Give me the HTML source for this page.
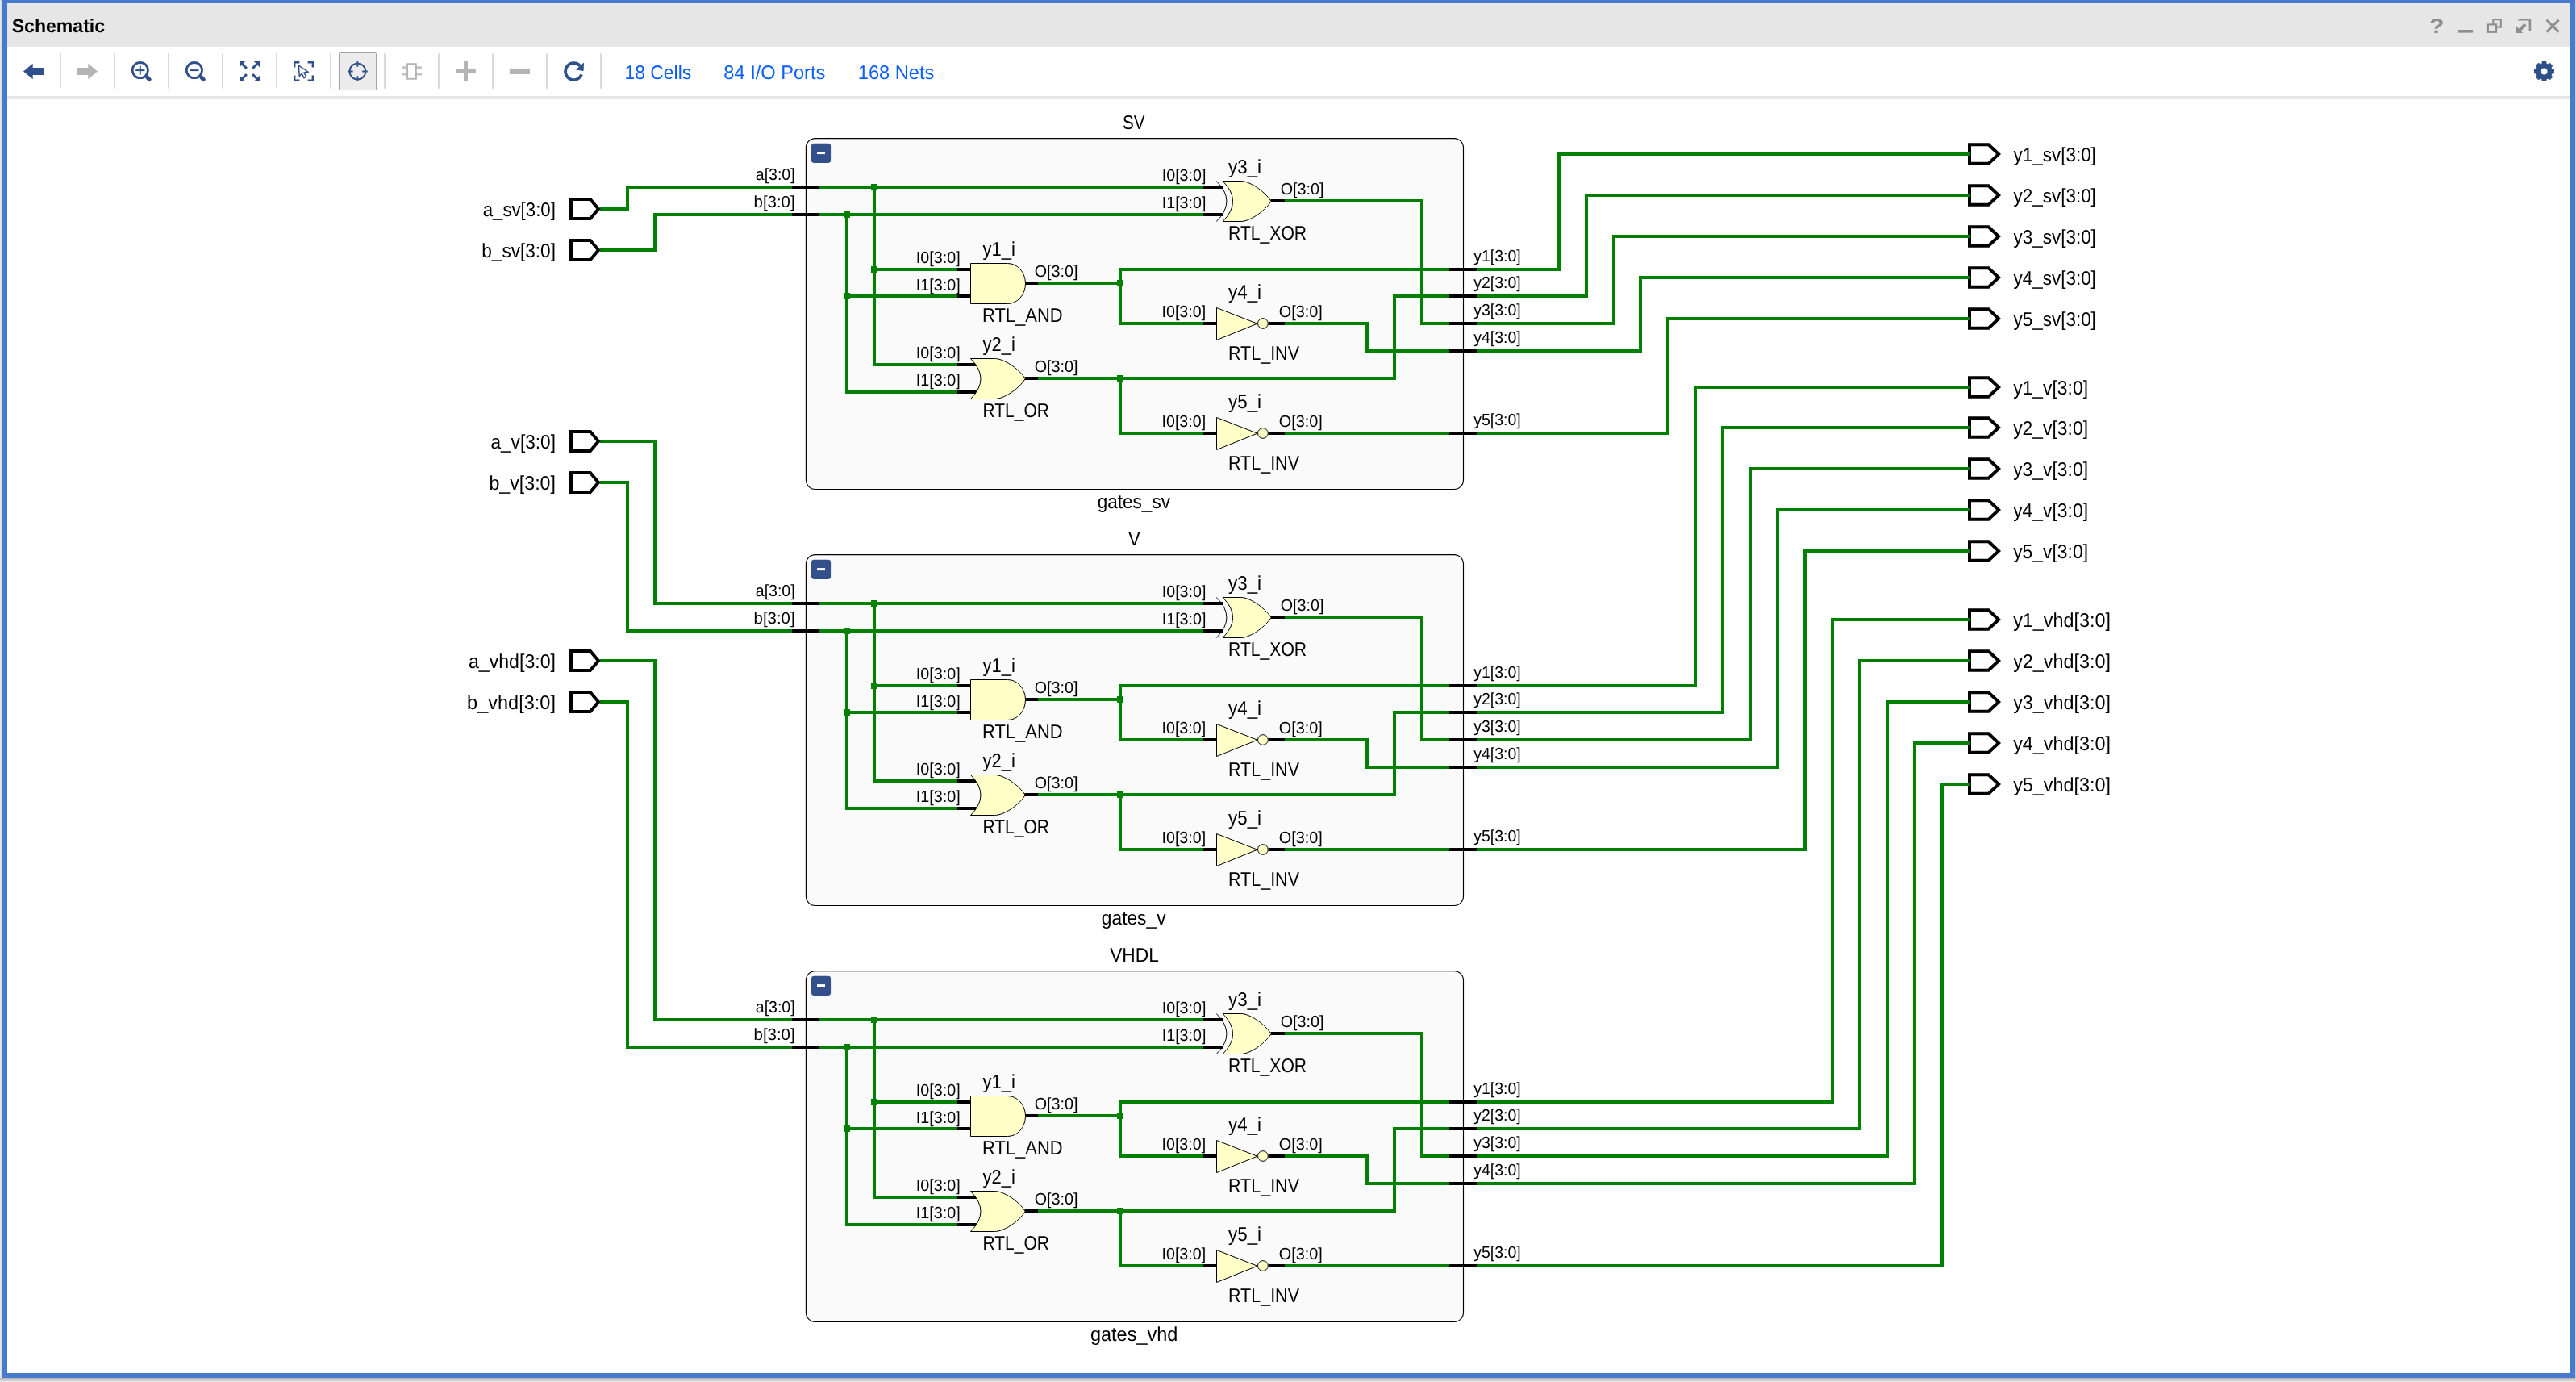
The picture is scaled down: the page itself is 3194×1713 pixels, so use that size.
<!DOCTYPE html>
<html><head><meta charset="utf-8"><title>Schematic</title>
<style>
html,body{margin:0;padding:0;background:#ececec;overflow:hidden}
body{width:3194px;height:1713px}
svg{display:block;font-family:"Liberation Sans",sans-serif;will-change:transform}
text{white-space:pre;text-rendering:geometricPrecision}
</style></head><body>
<svg width="3194" height="1713" viewBox="0 0 3194 1713">
<rect x="0" y="0" width="3194" height="1713" fill="#ececec"/>
<defs><linearGradient id="sb" x1="0" y1="0" x2="0" y2="1"><stop offset="0" stop-color="#b4b4b4"/><stop offset="1" stop-color="#e9e9e9"/></linearGradient><linearGradient id="sl" x1="1" y1="0" x2="0" y2="0"><stop offset="0" stop-color="#c8c8c8"/><stop offset="1" stop-color="#ececec"/></linearGradient></defs>
<rect x="0" y="0" width="3" height="1710" fill="url(#sl)"/>
<rect x="0" y="1708" width="3194" height="5" fill="url(#sb)"/>
<rect x="3193" y="0" width="1" height="1710" fill="#cfcfcf"/>
<rect x="3" y="-4" width="3190" height="1712" fill="#487bd0"/>
<rect x="9" y="4" width="3178" height="54" fill="#e6e6e6"/>
<rect x="9" y="58" width="3178" height="61" fill="#ffffff"/>
<rect x="9" y="119" width="3178" height="4" fill="#e6e6e6"/>
<rect x="9" y="123" width="3178" height="1579" fill="#ffffff"/>
<text x="14.67" y="39.9" font-size="23.4" textLength="115.46" lengthAdjust="spacingAndGlyphs" fill="#000" font-weight="bold">Schematic</text>
<text x="3011.9" y="40.9" font-size="25.5" font-weight="bold" fill="#8e8e8e" textLength="18.5" lengthAdjust="spacingAndGlyphs">?</text>
<rect x="3048" y="37" width="18" height="3.6" fill="#8e8e8e"/>
<path d="M3091.3,30 V24.1 H3100.8 V33.6 H3095" fill="none" stroke="#8e8e8e" stroke-width="2.1"/>
<rect x="3084.9" y="30.4" width="10.2" height="9.4" fill="none" stroke="#8e8e8e" stroke-width="2.1"/>
<path d="M3122.6,24.3 H3136.9 V38.6" fill="none" stroke="#8e8e8e" stroke-width="2.6"/>
<path d="M3131.2,30.2 L3123.5,37.9" fill="none" stroke="#8e8e8e" stroke-width="4"/>
<path d="M3120,32.3 V40.9 H3128.2 Z" fill="#8e8e8e"/>
<path d="M3157.6,24.8 L3172.6,39.6 M3172.6,24.8 L3157.6,39.6" fill="none" stroke="#8e8e8e" stroke-width="3"/>
<rect x="74.1" y="66.2" width="1.8" height="43.6" fill="#d6d6d6"/>
<rect x="141.1" y="66.2" width="1.8" height="43.6" fill="#d6d6d6"/>
<rect x="208.1" y="66.2" width="1.8" height="43.6" fill="#d6d6d6"/>
<rect x="275.1" y="66.2" width="1.8" height="43.6" fill="#d6d6d6"/>
<rect x="342.1" y="66.2" width="1.8" height="43.6" fill="#d6d6d6"/>
<rect x="409.1" y="66.2" width="1.8" height="43.6" fill="#d6d6d6"/>
<rect x="476.1" y="66.2" width="1.8" height="43.6" fill="#d6d6d6"/>
<rect x="543.1" y="66.2" width="1.8" height="43.6" fill="#d6d6d6"/>
<rect x="610.1" y="66.2" width="1.8" height="43.6" fill="#d6d6d6"/>
<rect x="677.1" y="66.2" width="1.8" height="43.6" fill="#d6d6d6"/>
<rect x="744.1" y="66.2" width="1.8" height="43.6" fill="#d6d6d6"/>
<path d="M29,88.5 L40.7,78.8 L40.7,83.9 L54,83.9 L54,93.1 L40.7,93.1 L40.7,98.2 Z" fill="#2f4f8a"/>
<path d="M121,88.5 L109.3,78.8 L109.3,83.9 L96,83.9 L96,93.1 L109.3,93.1 L109.3,98.2 Z" fill="#b4b4b4"/>
<circle cx="173.8" cy="87.1" r="9.6" fill="none" stroke="#2f4f8a" stroke-width="2.8"/>
<path d="M168.2,87.1 h11.2" stroke="#2f4f8a" stroke-width="2" fill="none"/>
<path d="M173.8,81.5 v11.2" stroke="#2f4f8a" stroke-width="2" fill="none"/>
<path d="M182.7,96 l2.5,2.5" stroke="#2f4f8a" stroke-width="5" stroke-linecap="round" fill="none"/>
<circle cx="240.9" cy="87.1" r="9.6" fill="none" stroke="#2f4f8a" stroke-width="2.8"/>
<path d="M235.3,87.1 h11.2" stroke="#2f4f8a" stroke-width="2" fill="none"/>
<path d="M249.8,96 l2.5,2.5" stroke="#2f4f8a" stroke-width="5" stroke-linecap="round" fill="none"/>
<path d="M297,76 L304.2,76 L297,83.2 Z" fill="#2f4f8a"/>
<path d="M299.5,78.5 L305.9,84.9" stroke="#2f4f8a" stroke-width="2.9" fill="none"/>
<path d="M297,101 L304.2,101 L297,93.8 Z" fill="#2f4f8a"/>
<path d="M299.5,98.5 L305.9,92.1" stroke="#2f4f8a" stroke-width="2.9" fill="none"/>
<path d="M322,76 L314.8,76 L322,83.2 Z" fill="#2f4f8a"/>
<path d="M319.5,78.5 L313.1,84.9" stroke="#2f4f8a" stroke-width="2.9" fill="none"/>
<path d="M322,101 L314.8,101 L322,93.8 Z" fill="#2f4f8a"/>
<path d="M319.5,98.5 L313.1,92.1" stroke="#2f4f8a" stroke-width="2.9" fill="none"/>
<path d="M371.4,77.2 H365.2 V83.4" stroke="#2f4f8a" stroke-width="2.4" fill="none"/>
<path d="M371.4,99.8 H365.2 V93.6" stroke="#2f4f8a" stroke-width="2.4" fill="none"/>
<path d="M381.6,77.2 H387.8 V83.4" stroke="#2f4f8a" stroke-width="2.4" fill="none"/>
<path d="M381.6,99.8 H387.8 V93.6" stroke="#2f4f8a" stroke-width="2.4" fill="none"/>
<path d="M370.3,81.1 l11.6,7.9 l-4.9,1 l2.7,5.3 l-2.7,1.4 l-2.7,-5.4 l-3,3.2 Z" fill="#fff" stroke="#2f4f8a" stroke-width="1.5" stroke-linejoin="miter"/>
<rect x="420.5" y="65.5" width="46" height="46" rx="1" fill="#ececec" stroke="#a2a2a2" stroke-width="1"/>
<circle cx="443.4" cy="88.5" r="9.9" fill="none" stroke="#2f4f8a" stroke-width="1.9"/>
<path d="M431,88.5 h6.6 M449.2,88.5 h6.6 M443.4,76.1 v6.6 M443.4,94.3 v6.6" stroke="#2f4f8a" stroke-width="1.8" fill="none"/>
<path d="M498,83.7 h7 M498,92 h7 M516,83.7 h7 M516,92 h7" stroke="#c4c4c4" stroke-width="2.8" fill="none"/>
<rect x="505.1" y="79.2" width="10.8" height="18.6" fill="#fff" stroke="#b4b4b4" stroke-width="1.9"/>
<path d="M565.1,88.5 h24.8 M577.5,76.1 v24.8" stroke="#b4b4b4" stroke-width="5" fill="none"/>
<rect x="631.9" y="84.9" width="25.1" height="7.1" fill="#b4b4b4"/>
<path d="M721.11,92.33 A10.4,10.4 0 1 1 719.37,81.92" fill="none" stroke="#2f4f8a" stroke-width="3.7"/>
<path d="M724,77.4 L723.6,88 L714,86.4 Z" fill="#2f4f8a"/>
<text x="774.46" y="97.6" font-size="24.2" textLength="82.71" lengthAdjust="spacingAndGlyphs" fill="#0b5ffa">18 Cells</text>
<text x="897.29" y="97.6" font-size="24.2" textLength="126.1" lengthAdjust="spacingAndGlyphs" fill="#0b5ffa">84 I/O Ports</text>
<text x="1063.75" y="97.6" font-size="24.2" textLength="94.64" lengthAdjust="spacingAndGlyphs" fill="#0b5ffa">168 Nets</text>
<path d="M3151.99,79.13 L3152.29,76.6 L3156.71,76.6 L3157.01,79.13 L3159.35,80.1 L3161.35,78.53 L3164.47,81.65 L3162.9,83.65 L3163.87,85.99 L3166.4,86.29 L3166.4,90.71 L3163.87,91.01 L3162.9,93.35 L3164.47,95.35 L3161.35,98.47 L3159.35,96.9 L3157.01,97.87 L3156.71,100.4 L3152.29,100.4 L3151.99,97.87 L3149.65,96.9 L3147.65,98.47 L3144.53,95.35 L3146.1,93.35 L3145.13,91.01 L3142.6,90.71 L3142.6,86.29 L3145.13,85.99 L3146.1,83.65 L3144.53,81.65 L3147.65,78.53 L3149.65,80.1 Z" fill="#2f4f8a" stroke="#2f4f8a" stroke-width="1.2" stroke-linejoin="round"/>
<circle cx="3154.5" cy="88.5" r="4" fill="#fff"/>
<path d="M743.5,259 H778 V232 H982" fill="none" stroke="#008000" stroke-width="4" stroke-linejoin="miter" stroke-linecap="butt"/>
<path d="M743.5,310 H812 V266 H982" fill="none" stroke="#008000" stroke-width="4" stroke-linejoin="miter" stroke-linecap="butt"/>
<path d="M743.5,547 H812 V748 H982" fill="none" stroke="#008000" stroke-width="4" stroke-linejoin="miter" stroke-linecap="butt"/>
<path d="M743.5,598 H778 V782 H982" fill="none" stroke="#008000" stroke-width="4" stroke-linejoin="miter" stroke-linecap="butt"/>
<path d="M743.5,819 H812 V1264 H982" fill="none" stroke="#008000" stroke-width="4" stroke-linejoin="miter" stroke-linecap="butt"/>
<path d="M743.5,870 H778 V1298 H982" fill="none" stroke="#008000" stroke-width="4" stroke-linejoin="miter" stroke-linecap="butt"/>
<path d="M1831,334 H1933 V191 H2442" fill="none" stroke="#008000" stroke-width="4" stroke-linejoin="miter" stroke-linecap="butt"/>
<path d="M1831,367 H1967 V242 H2442" fill="none" stroke="#008000" stroke-width="4" stroke-linejoin="miter" stroke-linecap="butt"/>
<path d="M1831,401 H2001 V293 H2442" fill="none" stroke="#008000" stroke-width="4" stroke-linejoin="miter" stroke-linecap="butt"/>
<path d="M1831,435 H2034 V344 H2442" fill="none" stroke="#008000" stroke-width="4" stroke-linejoin="miter" stroke-linecap="butt"/>
<path d="M1831,537 H2068 V395 H2442" fill="none" stroke="#008000" stroke-width="4" stroke-linejoin="miter" stroke-linecap="butt"/>
<path d="M1831,850 H2102 V480 H2442" fill="none" stroke="#008000" stroke-width="4" stroke-linejoin="miter" stroke-linecap="butt"/>
<path d="M1831,883 H2136 V530 H2442" fill="none" stroke="#008000" stroke-width="4" stroke-linejoin="miter" stroke-linecap="butt"/>
<path d="M1831,917 H2170 V581 H2442" fill="none" stroke="#008000" stroke-width="4" stroke-linejoin="miter" stroke-linecap="butt"/>
<path d="M1831,951 H2204 V632 H2442" fill="none" stroke="#008000" stroke-width="4" stroke-linejoin="miter" stroke-linecap="butt"/>
<path d="M1831,1053 H2238 V683 H2442" fill="none" stroke="#008000" stroke-width="4" stroke-linejoin="miter" stroke-linecap="butt"/>
<path d="M1831,1366 H2272 V768 H2442" fill="none" stroke="#008000" stroke-width="4" stroke-linejoin="miter" stroke-linecap="butt"/>
<path d="M1831,1399 H2306 V819 H2442" fill="none" stroke="#008000" stroke-width="4" stroke-linejoin="miter" stroke-linecap="butt"/>
<path d="M1831,1433 H2340 V870 H2442" fill="none" stroke="#008000" stroke-width="4" stroke-linejoin="miter" stroke-linecap="butt"/>
<path d="M1831,1467 H2374 V921 H2442" fill="none" stroke="#008000" stroke-width="4" stroke-linejoin="miter" stroke-linecap="butt"/>
<path d="M1831,1569 H2408 V972 H2442" fill="none" stroke="#008000" stroke-width="4" stroke-linejoin="miter" stroke-linecap="butt"/>
<rect x="999.4" y="171.6" width="815.1" height="434.9" rx="11.5" fill="#fafafa" stroke="#000" stroke-width="1.15"/>
<rect x="1006" y="177.8" width="24.1" height="24.1" rx="3.4" fill="#33508b"/>
<rect x="1013" y="188.1" width="10" height="3" fill="#fff"/>
<text x="1391.98" y="160" font-size="24.4" textLength="27.48" lengthAdjust="spacingAndGlyphs" fill="#000">SV</text>
<text x="1360.72" y="629.6" font-size="24.4" textLength="90.22" lengthAdjust="spacingAndGlyphs" fill="#000">gates_sv</text>
<path d="M1016,232 H1491" fill="none" stroke="#008000" stroke-width="4" stroke-linejoin="miter" stroke-linecap="butt"/>
<path d="M1084,232 V452 H1186" fill="none" stroke="#008000" stroke-width="4" stroke-linejoin="miter" stroke-linecap="butt"/>
<path d="M1084,334 H1186" fill="none" stroke="#008000" stroke-width="4" stroke-linejoin="miter" stroke-linecap="butt"/>
<path d="M1016,266 H1491" fill="none" stroke="#008000" stroke-width="4" stroke-linejoin="miter" stroke-linecap="butt"/>
<path d="M1050,266 V486 H1186" fill="none" stroke="#008000" stroke-width="4" stroke-linejoin="miter" stroke-linecap="butt"/>
<path d="M1050,367 H1186" fill="none" stroke="#008000" stroke-width="4" stroke-linejoin="miter" stroke-linecap="butt"/>
<path d="M1287,351 H1389" fill="none" stroke="#008000" stroke-width="4" stroke-linejoin="miter" stroke-linecap="butt"/>
<path d="M1797,334 H1389 V401 H1491" fill="none" stroke="#008000" stroke-width="4" stroke-linejoin="miter" stroke-linecap="butt"/>
<path d="M1287,469 H1729 V367 H1797" fill="none" stroke="#008000" stroke-width="4" stroke-linejoin="miter" stroke-linecap="butt"/>
<path d="M1389,469 V537 H1491" fill="none" stroke="#008000" stroke-width="4" stroke-linejoin="miter" stroke-linecap="butt"/>
<path d="M1593,249 H1763 V401 H1797" fill="none" stroke="#008000" stroke-width="4" stroke-linejoin="miter" stroke-linecap="butt"/>
<path d="M1593,401 H1695 V435 H1797" fill="none" stroke="#008000" stroke-width="4" stroke-linejoin="miter" stroke-linecap="butt"/>
<path d="M1593,537 H1797" fill="none" stroke="#008000" stroke-width="4" stroke-linejoin="miter" stroke-linecap="butt"/>
<rect x="1080" y="228" width="8" height="8" fill="#008000"/>
<rect x="1080" y="330" width="8" height="8" fill="#008000"/>
<rect x="1046" y="262" width="8" height="8" fill="#008000"/>
<rect x="1046" y="363" width="8" height="8" fill="#008000"/>
<rect x="1385" y="347" width="8" height="8" fill="#008000"/>
<rect x="1385" y="465" width="8" height="8" fill="#008000"/>
<path d="M982,232 H1016" fill="none" stroke="#000" stroke-width="4"/>
<path d="M982,266 H1016" fill="none" stroke="#000" stroke-width="4"/>
<path d="M1186,334 H1204" fill="none" stroke="#000" stroke-width="4"/>
<path d="M1186,367 H1204" fill="none" stroke="#000" stroke-width="4"/>
<path d="M1271,351 H1287" fill="none" stroke="#000" stroke-width="4"/>
<path d="M1186,452 H1212" fill="none" stroke="#000" stroke-width="4"/>
<path d="M1186,486 H1212" fill="none" stroke="#000" stroke-width="4"/>
<path d="M1270.5,469 H1287" fill="none" stroke="#000" stroke-width="4"/>
<path d="M1491,232 H1516.5" fill="none" stroke="#000" stroke-width="4"/>
<path d="M1491,266 H1516.5" fill="none" stroke="#000" stroke-width="4"/>
<path d="M1575.5,249 H1593" fill="none" stroke="#000" stroke-width="4"/>
<path d="M1491,401 H1508.5" fill="none" stroke="#000" stroke-width="4"/>
<path d="M1572.5,401 H1593" fill="none" stroke="#000" stroke-width="4"/>
<path d="M1491,537 H1508.5" fill="none" stroke="#000" stroke-width="4"/>
<path d="M1572.5,537 H1593" fill="none" stroke="#000" stroke-width="4"/>
<path d="M1797,334 H1831" fill="none" stroke="#000" stroke-width="4"/>
<path d="M1797,367 H1831" fill="none" stroke="#000" stroke-width="4"/>
<path d="M1797,401 H1831" fill="none" stroke="#000" stroke-width="4"/>
<path d="M1797,435 H1831" fill="none" stroke="#000" stroke-width="4"/>
<path d="M1797,537 H1831" fill="none" stroke="#000" stroke-width="4"/>
<path d="M1203.5,326.5 H1249.5 A22,25 0 0 1 1249.5,376.5 H1203.5 Z" fill="#ffffc8" stroke="#000" stroke-width="1"/>
<path d="M1203.5,444.5 H1233.4 C1244.2,444.5 1262.73,456 1271.2,469.5 C1262.73,483 1244.2,494.5 1233.4,494.5 H1203.5 Q1228.5,469.5 1203.5,444.5 Z" fill="#ffffc8" stroke="#000" stroke-width="1"/>
<path d="M1516.2,224.5 H1538.9 C1548.55,224.5 1567.03,235.67 1576.1,249.5 C1567.03,263.33 1548.55,274.5 1538.9,274.5 H1516.2 Q1541,249.5 1516.2,224.5 Z" fill="#ffffc8" stroke="#000" stroke-width="1"/>
<path d="M1508.2,224.4 Q1533.7,249.5 1508.2,274.6" fill="none" stroke="#000" stroke-width="1"/>
<path d="M1508.5,381.5 L1559,401.2 L1508.5,421.5 Z" fill="#ffffc8" stroke="#000" stroke-width="1"/>
<circle cx="1565.9" cy="401" r="6.35" fill="#ffffc8" stroke="#000" stroke-width="1"/>
<path d="M1508.5,517.5 L1559,537.2 L1508.5,557.5 Z" fill="#ffffc8" stroke="#000" stroke-width="1"/>
<circle cx="1565.9" cy="537" r="6.35" fill="#ffffc8" stroke="#000" stroke-width="1"/>
<text x="936.78" y="223" font-size="20.3" textLength="48.92" lengthAdjust="spacingAndGlyphs" fill="#000">a[3:0]</text>
<text x="934.59" y="257" font-size="20.3" textLength="51.04" lengthAdjust="spacingAndGlyphs" fill="#000">b[3:0]</text>
<text x="1440.71" y="223.7" font-size="20.3" textLength="54.76" lengthAdjust="spacingAndGlyphs" fill="#000">I0[3:0]</text>
<text x="1440.71" y="257.6" font-size="20.3" textLength="54.76" lengthAdjust="spacingAndGlyphs" fill="#000">I1[3:0]</text>
<text x="1523" y="214.6" font-size="24.4" textLength="41.1" lengthAdjust="spacingAndGlyphs" fill="#000">y3_i</text>
<text x="1587.64" y="240.7" font-size="20.3" textLength="53.92" lengthAdjust="spacingAndGlyphs" fill="#000">O[3:0]</text>
<text x="1523.01" y="297" font-size="24.4" textLength="97.08" lengthAdjust="spacingAndGlyphs" fill="#000">RTL_XOR</text>
<text x="1135.68" y="325.9" font-size="20.3" textLength="54.96" lengthAdjust="spacingAndGlyphs" fill="#000">I0[3:0]</text>
<text x="1135.68" y="359.6" font-size="20.3" textLength="54.96" lengthAdjust="spacingAndGlyphs" fill="#000">I1[3:0]</text>
<text x="1218.45" y="316.8" font-size="24.4" textLength="40.33" lengthAdjust="spacingAndGlyphs" fill="#000">y1_i</text>
<text x="1282.64" y="342.7" font-size="20.3" textLength="53.92" lengthAdjust="spacingAndGlyphs" fill="#000">O[3:0]</text>
<text x="1218.04" y="398.6" font-size="24.4" textLength="99.55" lengthAdjust="spacingAndGlyphs" fill="#000">RTL_AND</text>
<text x="1135.68" y="443.8" font-size="20.3" textLength="54.96" lengthAdjust="spacingAndGlyphs" fill="#000">I0[3:0]</text>
<text x="1135.68" y="477.6" font-size="20.3" textLength="54.96" lengthAdjust="spacingAndGlyphs" fill="#000">I1[3:0]</text>
<text x="1218.45" y="434.6" font-size="24.4" textLength="40.33" lengthAdjust="spacingAndGlyphs" fill="#000">y2_i</text>
<text x="1282.64" y="460.8" font-size="20.3" textLength="53.92" lengthAdjust="spacingAndGlyphs" fill="#000">O[3:0]</text>
<text x="1218.56" y="516.7" font-size="24.4" textLength="82.27" lengthAdjust="spacingAndGlyphs" fill="#000">RTL_OR</text>
<text x="1440.54" y="393.2" font-size="20.3" textLength="54.58" lengthAdjust="spacingAndGlyphs" fill="#000">I0[3:0]</text>
<text x="1523" y="370.1" font-size="24.4" textLength="41.1" lengthAdjust="spacingAndGlyphs" fill="#000">y4_i</text>
<text x="1585.77" y="393.1" font-size="20.3" textLength="54.09" lengthAdjust="spacingAndGlyphs" fill="#000">O[3:0]</text>
<text x="1522.97" y="445.5" font-size="24.4" textLength="88.01" lengthAdjust="spacingAndGlyphs" fill="#000">RTL_INV</text>
<text x="1440.54" y="529.2" font-size="20.3" textLength="54.58" lengthAdjust="spacingAndGlyphs" fill="#000">I0[3:0]</text>
<text x="1523" y="506.1" font-size="24.4" textLength="41.1" lengthAdjust="spacingAndGlyphs" fill="#000">y5_i</text>
<text x="1585.77" y="529.2" font-size="20.3" textLength="54.09" lengthAdjust="spacingAndGlyphs" fill="#000">O[3:0]</text>
<text x="1522.97" y="582" font-size="24.4" textLength="88.01" lengthAdjust="spacingAndGlyphs" fill="#000">RTL_INV</text>
<text x="1827.26" y="323.8" font-size="20.3" textLength="58.46" lengthAdjust="spacingAndGlyphs" fill="#000">y1[3:0]</text>
<text x="1827.26" y="356.8" font-size="20.3" textLength="58.46" lengthAdjust="spacingAndGlyphs" fill="#000">y2[3:0]</text>
<text x="1827.26" y="390.8" font-size="20.3" textLength="58.46" lengthAdjust="spacingAndGlyphs" fill="#000">y3[3:0]</text>
<text x="1827.26" y="424.8" font-size="20.3" textLength="58.46" lengthAdjust="spacingAndGlyphs" fill="#000">y4[3:0]</text>
<text x="1827.26" y="526.8" font-size="20.3" textLength="58.46" lengthAdjust="spacingAndGlyphs" fill="#000">y5[3:0]</text>
<rect x="999.4" y="687.6" width="815.1" height="434.9" rx="11.5" fill="#fafafa" stroke="#000" stroke-width="1.15"/>
<rect x="1006" y="693.8" width="24.1" height="24.1" rx="3.4" fill="#33508b"/>
<rect x="1013" y="704.1" width="10" height="3" fill="#fff"/>
<text x="1398.99" y="676" font-size="24.4" textLength="14.78" lengthAdjust="spacingAndGlyphs" fill="#000">V</text>
<text x="1365.87" y="1145.6" font-size="24.4" textLength="79.66" lengthAdjust="spacingAndGlyphs" fill="#000">gates_v</text>
<path d="M1016,748 H1491" fill="none" stroke="#008000" stroke-width="4" stroke-linejoin="miter" stroke-linecap="butt"/>
<path d="M1084,748 V968 H1186" fill="none" stroke="#008000" stroke-width="4" stroke-linejoin="miter" stroke-linecap="butt"/>
<path d="M1084,850 H1186" fill="none" stroke="#008000" stroke-width="4" stroke-linejoin="miter" stroke-linecap="butt"/>
<path d="M1016,782 H1491" fill="none" stroke="#008000" stroke-width="4" stroke-linejoin="miter" stroke-linecap="butt"/>
<path d="M1050,782 V1002 H1186" fill="none" stroke="#008000" stroke-width="4" stroke-linejoin="miter" stroke-linecap="butt"/>
<path d="M1050,883 H1186" fill="none" stroke="#008000" stroke-width="4" stroke-linejoin="miter" stroke-linecap="butt"/>
<path d="M1287,867 H1389" fill="none" stroke="#008000" stroke-width="4" stroke-linejoin="miter" stroke-linecap="butt"/>
<path d="M1797,850 H1389 V917 H1491" fill="none" stroke="#008000" stroke-width="4" stroke-linejoin="miter" stroke-linecap="butt"/>
<path d="M1287,985 H1729 V883 H1797" fill="none" stroke="#008000" stroke-width="4" stroke-linejoin="miter" stroke-linecap="butt"/>
<path d="M1389,985 V1053 H1491" fill="none" stroke="#008000" stroke-width="4" stroke-linejoin="miter" stroke-linecap="butt"/>
<path d="M1593,765 H1763 V917 H1797" fill="none" stroke="#008000" stroke-width="4" stroke-linejoin="miter" stroke-linecap="butt"/>
<path d="M1593,917 H1695 V951 H1797" fill="none" stroke="#008000" stroke-width="4" stroke-linejoin="miter" stroke-linecap="butt"/>
<path d="M1593,1053 H1797" fill="none" stroke="#008000" stroke-width="4" stroke-linejoin="miter" stroke-linecap="butt"/>
<rect x="1080" y="744" width="8" height="8" fill="#008000"/>
<rect x="1080" y="846" width="8" height="8" fill="#008000"/>
<rect x="1046" y="778" width="8" height="8" fill="#008000"/>
<rect x="1046" y="879" width="8" height="8" fill="#008000"/>
<rect x="1385" y="863" width="8" height="8" fill="#008000"/>
<rect x="1385" y="981" width="8" height="8" fill="#008000"/>
<path d="M982,748 H1016" fill="none" stroke="#000" stroke-width="4"/>
<path d="M982,782 H1016" fill="none" stroke="#000" stroke-width="4"/>
<path d="M1186,850 H1204" fill="none" stroke="#000" stroke-width="4"/>
<path d="M1186,883 H1204" fill="none" stroke="#000" stroke-width="4"/>
<path d="M1271,867 H1287" fill="none" stroke="#000" stroke-width="4"/>
<path d="M1186,968 H1212" fill="none" stroke="#000" stroke-width="4"/>
<path d="M1186,1002 H1212" fill="none" stroke="#000" stroke-width="4"/>
<path d="M1270.5,985 H1287" fill="none" stroke="#000" stroke-width="4"/>
<path d="M1491,748 H1516.5" fill="none" stroke="#000" stroke-width="4"/>
<path d="M1491,782 H1516.5" fill="none" stroke="#000" stroke-width="4"/>
<path d="M1575.5,765 H1593" fill="none" stroke="#000" stroke-width="4"/>
<path d="M1491,917 H1508.5" fill="none" stroke="#000" stroke-width="4"/>
<path d="M1572.5,917 H1593" fill="none" stroke="#000" stroke-width="4"/>
<path d="M1491,1053 H1508.5" fill="none" stroke="#000" stroke-width="4"/>
<path d="M1572.5,1053 H1593" fill="none" stroke="#000" stroke-width="4"/>
<path d="M1797,850 H1831" fill="none" stroke="#000" stroke-width="4"/>
<path d="M1797,883 H1831" fill="none" stroke="#000" stroke-width="4"/>
<path d="M1797,917 H1831" fill="none" stroke="#000" stroke-width="4"/>
<path d="M1797,951 H1831" fill="none" stroke="#000" stroke-width="4"/>
<path d="M1797,1053 H1831" fill="none" stroke="#000" stroke-width="4"/>
<path d="M1203.5,842.5 H1249.5 A22,25 0 0 1 1249.5,892.5 H1203.5 Z" fill="#ffffc8" stroke="#000" stroke-width="1"/>
<path d="M1203.5,960.5 H1233.4 C1244.2,960.5 1262.73,972 1271.2,985.5 C1262.73,999 1244.2,1010.5 1233.4,1010.5 H1203.5 Q1228.5,985.5 1203.5,960.5 Z" fill="#ffffc8" stroke="#000" stroke-width="1"/>
<path d="M1516.2,740.5 H1538.9 C1548.55,740.5 1567.03,751.67 1576.1,765.5 C1567.03,779.33 1548.55,790.5 1538.9,790.5 H1516.2 Q1541,765.5 1516.2,740.5 Z" fill="#ffffc8" stroke="#000" stroke-width="1"/>
<path d="M1508.2,740.4 Q1533.7,765.5 1508.2,790.6" fill="none" stroke="#000" stroke-width="1"/>
<path d="M1508.5,897.5 L1559,917.2 L1508.5,937.5 Z" fill="#ffffc8" stroke="#000" stroke-width="1"/>
<circle cx="1565.9" cy="917" r="6.35" fill="#ffffc8" stroke="#000" stroke-width="1"/>
<path d="M1508.5,1033.5 L1559,1053.2 L1508.5,1073.5 Z" fill="#ffffc8" stroke="#000" stroke-width="1"/>
<circle cx="1565.9" cy="1053" r="6.35" fill="#ffffc8" stroke="#000" stroke-width="1"/>
<text x="936.78" y="739" font-size="20.3" textLength="48.92" lengthAdjust="spacingAndGlyphs" fill="#000">a[3:0]</text>
<text x="934.59" y="773" font-size="20.3" textLength="51.04" lengthAdjust="spacingAndGlyphs" fill="#000">b[3:0]</text>
<text x="1440.71" y="739.7" font-size="20.3" textLength="54.76" lengthAdjust="spacingAndGlyphs" fill="#000">I0[3:0]</text>
<text x="1440.71" y="773.6" font-size="20.3" textLength="54.76" lengthAdjust="spacingAndGlyphs" fill="#000">I1[3:0]</text>
<text x="1523" y="730.6" font-size="24.4" textLength="41.1" lengthAdjust="spacingAndGlyphs" fill="#000">y3_i</text>
<text x="1587.64" y="756.7" font-size="20.3" textLength="53.92" lengthAdjust="spacingAndGlyphs" fill="#000">O[3:0]</text>
<text x="1523.01" y="813" font-size="24.4" textLength="97.08" lengthAdjust="spacingAndGlyphs" fill="#000">RTL_XOR</text>
<text x="1135.68" y="841.9" font-size="20.3" textLength="54.96" lengthAdjust="spacingAndGlyphs" fill="#000">I0[3:0]</text>
<text x="1135.68" y="875.6" font-size="20.3" textLength="54.96" lengthAdjust="spacingAndGlyphs" fill="#000">I1[3:0]</text>
<text x="1218.45" y="832.8" font-size="24.4" textLength="40.33" lengthAdjust="spacingAndGlyphs" fill="#000">y1_i</text>
<text x="1282.64" y="858.7" font-size="20.3" textLength="53.92" lengthAdjust="spacingAndGlyphs" fill="#000">O[3:0]</text>
<text x="1218.04" y="914.6" font-size="24.4" textLength="99.55" lengthAdjust="spacingAndGlyphs" fill="#000">RTL_AND</text>
<text x="1135.68" y="959.8" font-size="20.3" textLength="54.96" lengthAdjust="spacingAndGlyphs" fill="#000">I0[3:0]</text>
<text x="1135.68" y="993.6" font-size="20.3" textLength="54.96" lengthAdjust="spacingAndGlyphs" fill="#000">I1[3:0]</text>
<text x="1218.45" y="950.6" font-size="24.4" textLength="40.33" lengthAdjust="spacingAndGlyphs" fill="#000">y2_i</text>
<text x="1282.64" y="976.8" font-size="20.3" textLength="53.92" lengthAdjust="spacingAndGlyphs" fill="#000">O[3:0]</text>
<text x="1218.56" y="1032.7" font-size="24.4" textLength="82.27" lengthAdjust="spacingAndGlyphs" fill="#000">RTL_OR</text>
<text x="1440.54" y="909.2" font-size="20.3" textLength="54.58" lengthAdjust="spacingAndGlyphs" fill="#000">I0[3:0]</text>
<text x="1523" y="886.1" font-size="24.4" textLength="41.1" lengthAdjust="spacingAndGlyphs" fill="#000">y4_i</text>
<text x="1585.77" y="909.1" font-size="20.3" textLength="54.09" lengthAdjust="spacingAndGlyphs" fill="#000">O[3:0]</text>
<text x="1522.97" y="961.5" font-size="24.4" textLength="88.01" lengthAdjust="spacingAndGlyphs" fill="#000">RTL_INV</text>
<text x="1440.54" y="1045.2" font-size="20.3" textLength="54.58" lengthAdjust="spacingAndGlyphs" fill="#000">I0[3:0]</text>
<text x="1523" y="1022.1" font-size="24.4" textLength="41.1" lengthAdjust="spacingAndGlyphs" fill="#000">y5_i</text>
<text x="1585.77" y="1045.2" font-size="20.3" textLength="54.09" lengthAdjust="spacingAndGlyphs" fill="#000">O[3:0]</text>
<text x="1522.97" y="1098" font-size="24.4" textLength="88.01" lengthAdjust="spacingAndGlyphs" fill="#000">RTL_INV</text>
<text x="1827.26" y="839.8" font-size="20.3" textLength="58.46" lengthAdjust="spacingAndGlyphs" fill="#000">y1[3:0]</text>
<text x="1827.26" y="872.8" font-size="20.3" textLength="58.46" lengthAdjust="spacingAndGlyphs" fill="#000">y2[3:0]</text>
<text x="1827.26" y="906.8" font-size="20.3" textLength="58.46" lengthAdjust="spacingAndGlyphs" fill="#000">y3[3:0]</text>
<text x="1827.26" y="940.8" font-size="20.3" textLength="58.46" lengthAdjust="spacingAndGlyphs" fill="#000">y4[3:0]</text>
<text x="1827.26" y="1042.8" font-size="20.3" textLength="58.46" lengthAdjust="spacingAndGlyphs" fill="#000">y5[3:0]</text>
<rect x="999.4" y="1203.6" width="815.1" height="434.9" rx="11.5" fill="#fafafa" stroke="#000" stroke-width="1.15"/>
<rect x="1006" y="1209.8" width="24.1" height="24.1" rx="3.4" fill="#33508b"/>
<rect x="1013" y="1220.1" width="10" height="3" fill="#fff"/>
<text x="1376.19" y="1192" font-size="24.4" textLength="60.62" lengthAdjust="spacingAndGlyphs" fill="#000">VHDL</text>
<text x="1351.94" y="1661.6" font-size="24.4" textLength="108.38" lengthAdjust="spacingAndGlyphs" fill="#000">gates_vhd</text>
<path d="M1016,1264 H1491" fill="none" stroke="#008000" stroke-width="4" stroke-linejoin="miter" stroke-linecap="butt"/>
<path d="M1084,1264 V1484 H1186" fill="none" stroke="#008000" stroke-width="4" stroke-linejoin="miter" stroke-linecap="butt"/>
<path d="M1084,1366 H1186" fill="none" stroke="#008000" stroke-width="4" stroke-linejoin="miter" stroke-linecap="butt"/>
<path d="M1016,1298 H1491" fill="none" stroke="#008000" stroke-width="4" stroke-linejoin="miter" stroke-linecap="butt"/>
<path d="M1050,1298 V1518 H1186" fill="none" stroke="#008000" stroke-width="4" stroke-linejoin="miter" stroke-linecap="butt"/>
<path d="M1050,1399 H1186" fill="none" stroke="#008000" stroke-width="4" stroke-linejoin="miter" stroke-linecap="butt"/>
<path d="M1287,1383 H1389" fill="none" stroke="#008000" stroke-width="4" stroke-linejoin="miter" stroke-linecap="butt"/>
<path d="M1797,1366 H1389 V1433 H1491" fill="none" stroke="#008000" stroke-width="4" stroke-linejoin="miter" stroke-linecap="butt"/>
<path d="M1287,1501 H1729 V1399 H1797" fill="none" stroke="#008000" stroke-width="4" stroke-linejoin="miter" stroke-linecap="butt"/>
<path d="M1389,1501 V1569 H1491" fill="none" stroke="#008000" stroke-width="4" stroke-linejoin="miter" stroke-linecap="butt"/>
<path d="M1593,1281 H1763 V1433 H1797" fill="none" stroke="#008000" stroke-width="4" stroke-linejoin="miter" stroke-linecap="butt"/>
<path d="M1593,1433 H1695 V1467 H1797" fill="none" stroke="#008000" stroke-width="4" stroke-linejoin="miter" stroke-linecap="butt"/>
<path d="M1593,1569 H1797" fill="none" stroke="#008000" stroke-width="4" stroke-linejoin="miter" stroke-linecap="butt"/>
<rect x="1080" y="1260" width="8" height="8" fill="#008000"/>
<rect x="1080" y="1362" width="8" height="8" fill="#008000"/>
<rect x="1046" y="1294" width="8" height="8" fill="#008000"/>
<rect x="1046" y="1395" width="8" height="8" fill="#008000"/>
<rect x="1385" y="1379" width="8" height="8" fill="#008000"/>
<rect x="1385" y="1497" width="8" height="8" fill="#008000"/>
<path d="M982,1264 H1016" fill="none" stroke="#000" stroke-width="4"/>
<path d="M982,1298 H1016" fill="none" stroke="#000" stroke-width="4"/>
<path d="M1186,1366 H1204" fill="none" stroke="#000" stroke-width="4"/>
<path d="M1186,1399 H1204" fill="none" stroke="#000" stroke-width="4"/>
<path d="M1271,1383 H1287" fill="none" stroke="#000" stroke-width="4"/>
<path d="M1186,1484 H1212" fill="none" stroke="#000" stroke-width="4"/>
<path d="M1186,1518 H1212" fill="none" stroke="#000" stroke-width="4"/>
<path d="M1270.5,1501 H1287" fill="none" stroke="#000" stroke-width="4"/>
<path d="M1491,1264 H1516.5" fill="none" stroke="#000" stroke-width="4"/>
<path d="M1491,1298 H1516.5" fill="none" stroke="#000" stroke-width="4"/>
<path d="M1575.5,1281 H1593" fill="none" stroke="#000" stroke-width="4"/>
<path d="M1491,1433 H1508.5" fill="none" stroke="#000" stroke-width="4"/>
<path d="M1572.5,1433 H1593" fill="none" stroke="#000" stroke-width="4"/>
<path d="M1491,1569 H1508.5" fill="none" stroke="#000" stroke-width="4"/>
<path d="M1572.5,1569 H1593" fill="none" stroke="#000" stroke-width="4"/>
<path d="M1797,1366 H1831" fill="none" stroke="#000" stroke-width="4"/>
<path d="M1797,1399 H1831" fill="none" stroke="#000" stroke-width="4"/>
<path d="M1797,1433 H1831" fill="none" stroke="#000" stroke-width="4"/>
<path d="M1797,1467 H1831" fill="none" stroke="#000" stroke-width="4"/>
<path d="M1797,1569 H1831" fill="none" stroke="#000" stroke-width="4"/>
<path d="M1203.5,1358.5 H1249.5 A22,25 0 0 1 1249.5,1408.5 H1203.5 Z" fill="#ffffc8" stroke="#000" stroke-width="1"/>
<path d="M1203.5,1476.5 H1233.4 C1244.2,1476.5 1262.73,1488 1271.2,1501.5 C1262.73,1515 1244.2,1526.5 1233.4,1526.5 H1203.5 Q1228.5,1501.5 1203.5,1476.5 Z" fill="#ffffc8" stroke="#000" stroke-width="1"/>
<path d="M1516.2,1256.5 H1538.9 C1548.55,1256.5 1567.03,1267.67 1576.1,1281.5 C1567.03,1295.33 1548.55,1306.5 1538.9,1306.5 H1516.2 Q1541,1281.5 1516.2,1256.5 Z" fill="#ffffc8" stroke="#000" stroke-width="1"/>
<path d="M1508.2,1256.4 Q1533.7,1281.5 1508.2,1306.6" fill="none" stroke="#000" stroke-width="1"/>
<path d="M1508.5,1413.5 L1559,1433.2 L1508.5,1453.5 Z" fill="#ffffc8" stroke="#000" stroke-width="1"/>
<circle cx="1565.9" cy="1433" r="6.35" fill="#ffffc8" stroke="#000" stroke-width="1"/>
<path d="M1508.5,1549.5 L1559,1569.2 L1508.5,1589.5 Z" fill="#ffffc8" stroke="#000" stroke-width="1"/>
<circle cx="1565.9" cy="1569" r="6.35" fill="#ffffc8" stroke="#000" stroke-width="1"/>
<text x="936.78" y="1255" font-size="20.3" textLength="48.92" lengthAdjust="spacingAndGlyphs" fill="#000">a[3:0]</text>
<text x="934.59" y="1289" font-size="20.3" textLength="51.04" lengthAdjust="spacingAndGlyphs" fill="#000">b[3:0]</text>
<text x="1440.71" y="1255.7" font-size="20.3" textLength="54.76" lengthAdjust="spacingAndGlyphs" fill="#000">I0[3:0]</text>
<text x="1440.71" y="1289.6" font-size="20.3" textLength="54.76" lengthAdjust="spacingAndGlyphs" fill="#000">I1[3:0]</text>
<text x="1523" y="1246.6" font-size="24.4" textLength="41.1" lengthAdjust="spacingAndGlyphs" fill="#000">y3_i</text>
<text x="1587.64" y="1272.7" font-size="20.3" textLength="53.92" lengthAdjust="spacingAndGlyphs" fill="#000">O[3:0]</text>
<text x="1523.01" y="1329" font-size="24.4" textLength="97.08" lengthAdjust="spacingAndGlyphs" fill="#000">RTL_XOR</text>
<text x="1135.68" y="1357.9" font-size="20.3" textLength="54.96" lengthAdjust="spacingAndGlyphs" fill="#000">I0[3:0]</text>
<text x="1135.68" y="1391.6" font-size="20.3" textLength="54.96" lengthAdjust="spacingAndGlyphs" fill="#000">I1[3:0]</text>
<text x="1218.45" y="1348.8" font-size="24.4" textLength="40.33" lengthAdjust="spacingAndGlyphs" fill="#000">y1_i</text>
<text x="1282.64" y="1374.7" font-size="20.3" textLength="53.92" lengthAdjust="spacingAndGlyphs" fill="#000">O[3:0]</text>
<text x="1218.04" y="1430.6" font-size="24.4" textLength="99.55" lengthAdjust="spacingAndGlyphs" fill="#000">RTL_AND</text>
<text x="1135.68" y="1475.8" font-size="20.3" textLength="54.96" lengthAdjust="spacingAndGlyphs" fill="#000">I0[3:0]</text>
<text x="1135.68" y="1509.6" font-size="20.3" textLength="54.96" lengthAdjust="spacingAndGlyphs" fill="#000">I1[3:0]</text>
<text x="1218.45" y="1466.6" font-size="24.4" textLength="40.33" lengthAdjust="spacingAndGlyphs" fill="#000">y2_i</text>
<text x="1282.64" y="1492.8" font-size="20.3" textLength="53.92" lengthAdjust="spacingAndGlyphs" fill="#000">O[3:0]</text>
<text x="1218.56" y="1548.7" font-size="24.4" textLength="82.27" lengthAdjust="spacingAndGlyphs" fill="#000">RTL_OR</text>
<text x="1440.54" y="1425.2" font-size="20.3" textLength="54.58" lengthAdjust="spacingAndGlyphs" fill="#000">I0[3:0]</text>
<text x="1523" y="1402.1" font-size="24.4" textLength="41.1" lengthAdjust="spacingAndGlyphs" fill="#000">y4_i</text>
<text x="1585.77" y="1425.1" font-size="20.3" textLength="54.09" lengthAdjust="spacingAndGlyphs" fill="#000">O[3:0]</text>
<text x="1522.97" y="1477.5" font-size="24.4" textLength="88.01" lengthAdjust="spacingAndGlyphs" fill="#000">RTL_INV</text>
<text x="1440.54" y="1561.2" font-size="20.3" textLength="54.58" lengthAdjust="spacingAndGlyphs" fill="#000">I0[3:0]</text>
<text x="1523" y="1538.1" font-size="24.4" textLength="41.1" lengthAdjust="spacingAndGlyphs" fill="#000">y5_i</text>
<text x="1585.77" y="1561.2" font-size="20.3" textLength="54.09" lengthAdjust="spacingAndGlyphs" fill="#000">O[3:0]</text>
<text x="1522.97" y="1614" font-size="24.4" textLength="88.01" lengthAdjust="spacingAndGlyphs" fill="#000">RTL_INV</text>
<text x="1827.26" y="1355.8" font-size="20.3" textLength="58.46" lengthAdjust="spacingAndGlyphs" fill="#000">y1[3:0]</text>
<text x="1827.26" y="1388.8" font-size="20.3" textLength="58.46" lengthAdjust="spacingAndGlyphs" fill="#000">y2[3:0]</text>
<text x="1827.26" y="1422.8" font-size="20.3" textLength="58.46" lengthAdjust="spacingAndGlyphs" fill="#000">y3[3:0]</text>
<text x="1827.26" y="1456.8" font-size="20.3" textLength="58.46" lengthAdjust="spacingAndGlyphs" fill="#000">y4[3:0]</text>
<text x="1827.26" y="1558.8" font-size="20.3" textLength="58.46" lengthAdjust="spacingAndGlyphs" fill="#000">y5[3:0]</text>
<path d="M708,247.05 H731.9 L742,259 L731.9,270.95 H708 Z" fill="#fff" stroke="#000" stroke-width="4" stroke-linejoin="miter" stroke-miterlimit="10"/>
<text x="598.7" y="267.7" font-size="24.4" textLength="90.14" lengthAdjust="spacingAndGlyphs" fill="#000">a_sv[3:0]</text>
<path d="M708,298.05 H731.9 L742,310 L731.9,321.95 H708 Z" fill="#fff" stroke="#000" stroke-width="4" stroke-linejoin="miter" stroke-miterlimit="10"/>
<text x="597.27" y="318.7" font-size="24.4" textLength="91.69" lengthAdjust="spacingAndGlyphs" fill="#000">b_sv[3:0]</text>
<path d="M708,535.05 H731.9 L742,547 L731.9,558.95 H708 Z" fill="#fff" stroke="#000" stroke-width="4" stroke-linejoin="miter" stroke-miterlimit="10"/>
<text x="608.47" y="555.7" font-size="24.4" textLength="80.46" lengthAdjust="spacingAndGlyphs" fill="#000">a_v[3:0]</text>
<path d="M708,586.05 H731.9 L742,598 L731.9,609.95 H708 Z" fill="#fff" stroke="#000" stroke-width="4" stroke-linejoin="miter" stroke-miterlimit="10"/>
<text x="606.44" y="606.7" font-size="24.4" textLength="82.53" lengthAdjust="spacingAndGlyphs" fill="#000">b_v[3:0]</text>
<path d="M708,807.05 H731.9 L742,819 L731.9,830.95 H708 Z" fill="#fff" stroke="#000" stroke-width="4" stroke-linejoin="miter" stroke-miterlimit="10"/>
<text x="580.98" y="827.7" font-size="24.4" textLength="108" lengthAdjust="spacingAndGlyphs" fill="#000">a_vhd[3:0]</text>
<path d="M708,858.05 H731.9 L742,870 L731.9,881.95 H708 Z" fill="#fff" stroke="#000" stroke-width="4" stroke-linejoin="miter" stroke-miterlimit="10"/>
<text x="579.11" y="878.7" font-size="24.4" textLength="109.84" lengthAdjust="spacingAndGlyphs" fill="#000">b_vhd[3:0]</text>
<path d="M2442,179.2 H2465.6 L2478.1,191 L2465.6,202.8 H2442 Z" fill="#fff" stroke="#000" stroke-width="4" stroke-linejoin="miter" stroke-miterlimit="10"/>
<path d="M2440,191 H2442" stroke="#008000" stroke-width="4"/>
<text x="2496.46" y="199.8" font-size="24.4" textLength="102.42" lengthAdjust="spacingAndGlyphs" fill="#000">y1_sv[3:0]</text>
<path d="M2442,230.2 H2465.6 L2478.1,242 L2465.6,253.8 H2442 Z" fill="#fff" stroke="#000" stroke-width="4" stroke-linejoin="miter" stroke-miterlimit="10"/>
<path d="M2440,242 H2442" stroke="#008000" stroke-width="4"/>
<text x="2496.46" y="250.8" font-size="24.4" textLength="102.42" lengthAdjust="spacingAndGlyphs" fill="#000">y2_sv[3:0]</text>
<path d="M2442,281.2 H2465.6 L2478.1,293 L2465.6,304.8 H2442 Z" fill="#fff" stroke="#000" stroke-width="4" stroke-linejoin="miter" stroke-miterlimit="10"/>
<path d="M2440,293 H2442" stroke="#008000" stroke-width="4"/>
<text x="2496.46" y="301.8" font-size="24.4" textLength="102.42" lengthAdjust="spacingAndGlyphs" fill="#000">y3_sv[3:0]</text>
<path d="M2442,332.2 H2465.6 L2478.1,344 L2465.6,355.8 H2442 Z" fill="#fff" stroke="#000" stroke-width="4" stroke-linejoin="miter" stroke-miterlimit="10"/>
<path d="M2440,344 H2442" stroke="#008000" stroke-width="4"/>
<text x="2496.46" y="352.8" font-size="24.4" textLength="102.42" lengthAdjust="spacingAndGlyphs" fill="#000">y4_sv[3:0]</text>
<path d="M2442,383.2 H2465.6 L2478.1,395 L2465.6,406.8 H2442 Z" fill="#fff" stroke="#000" stroke-width="4" stroke-linejoin="miter" stroke-miterlimit="10"/>
<path d="M2440,395 H2442" stroke="#008000" stroke-width="4"/>
<text x="2496.46" y="403.8" font-size="24.4" textLength="102.42" lengthAdjust="spacingAndGlyphs" fill="#000">y5_sv[3:0]</text>
<path d="M2442,468.2 H2465.6 L2478.1,480 L2465.6,491.8 H2442 Z" fill="#fff" stroke="#000" stroke-width="4" stroke-linejoin="miter" stroke-miterlimit="10"/>
<path d="M2440,480 H2442" stroke="#008000" stroke-width="4"/>
<text x="2496.17" y="488.8" font-size="24.4" textLength="92.89" lengthAdjust="spacingAndGlyphs" fill="#000">y1_v[3:0]</text>
<path d="M2442,518.2 H2465.6 L2478.1,530 L2465.6,541.8 H2442 Z" fill="#fff" stroke="#000" stroke-width="4" stroke-linejoin="miter" stroke-miterlimit="10"/>
<path d="M2440,530 H2442" stroke="#008000" stroke-width="4"/>
<text x="2496.17" y="538.8" font-size="24.4" textLength="92.89" lengthAdjust="spacingAndGlyphs" fill="#000">y2_v[3:0]</text>
<path d="M2442,569.2 H2465.6 L2478.1,581 L2465.6,592.8 H2442 Z" fill="#fff" stroke="#000" stroke-width="4" stroke-linejoin="miter" stroke-miterlimit="10"/>
<path d="M2440,581 H2442" stroke="#008000" stroke-width="4"/>
<text x="2496.17" y="589.8" font-size="24.4" textLength="92.89" lengthAdjust="spacingAndGlyphs" fill="#000">y3_v[3:0]</text>
<path d="M2442,620.2 H2465.6 L2478.1,632 L2465.6,643.8 H2442 Z" fill="#fff" stroke="#000" stroke-width="4" stroke-linejoin="miter" stroke-miterlimit="10"/>
<path d="M2440,632 H2442" stroke="#008000" stroke-width="4"/>
<text x="2496.17" y="640.8" font-size="24.4" textLength="92.89" lengthAdjust="spacingAndGlyphs" fill="#000">y4_v[3:0]</text>
<path d="M2442,671.2 H2465.6 L2478.1,683 L2465.6,694.8 H2442 Z" fill="#fff" stroke="#000" stroke-width="4" stroke-linejoin="miter" stroke-miterlimit="10"/>
<path d="M2440,683 H2442" stroke="#008000" stroke-width="4"/>
<text x="2496.17" y="691.8" font-size="24.4" textLength="92.89" lengthAdjust="spacingAndGlyphs" fill="#000">y5_v[3:0]</text>
<path d="M2442,756.2 H2465.6 L2478.1,768 L2465.6,779.8 H2442 Z" fill="#fff" stroke="#000" stroke-width="4" stroke-linejoin="miter" stroke-miterlimit="10"/>
<path d="M2440,768 H2442" stroke="#008000" stroke-width="4"/>
<text x="2496.16" y="776.8" font-size="24.4" textLength="120.93" lengthAdjust="spacingAndGlyphs" fill="#000">y1_vhd[3:0]</text>
<path d="M2442,807.2 H2465.6 L2478.1,819 L2465.6,830.8 H2442 Z" fill="#fff" stroke="#000" stroke-width="4" stroke-linejoin="miter" stroke-miterlimit="10"/>
<path d="M2440,819 H2442" stroke="#008000" stroke-width="4"/>
<text x="2496.16" y="827.8" font-size="24.4" textLength="120.93" lengthAdjust="spacingAndGlyphs" fill="#000">y2_vhd[3:0]</text>
<path d="M2442,858.2 H2465.6 L2478.1,870 L2465.6,881.8 H2442 Z" fill="#fff" stroke="#000" stroke-width="4" stroke-linejoin="miter" stroke-miterlimit="10"/>
<path d="M2440,870 H2442" stroke="#008000" stroke-width="4"/>
<text x="2496.16" y="878.8" font-size="24.4" textLength="120.93" lengthAdjust="spacingAndGlyphs" fill="#000">y3_vhd[3:0]</text>
<path d="M2442,909.2 H2465.6 L2478.1,921 L2465.6,932.8 H2442 Z" fill="#fff" stroke="#000" stroke-width="4" stroke-linejoin="miter" stroke-miterlimit="10"/>
<path d="M2440,921 H2442" stroke="#008000" stroke-width="4"/>
<text x="2496.16" y="929.8" font-size="24.4" textLength="120.93" lengthAdjust="spacingAndGlyphs" fill="#000">y4_vhd[3:0]</text>
<path d="M2442,960.2 H2465.6 L2478.1,972 L2465.6,983.8 H2442 Z" fill="#fff" stroke="#000" stroke-width="4" stroke-linejoin="miter" stroke-miterlimit="10"/>
<path d="M2440,972 H2442" stroke="#008000" stroke-width="4"/>
<text x="2496.16" y="980.8" font-size="24.4" textLength="120.93" lengthAdjust="spacingAndGlyphs" fill="#000">y5_vhd[3:0]</text>
</svg>
</body></html>
